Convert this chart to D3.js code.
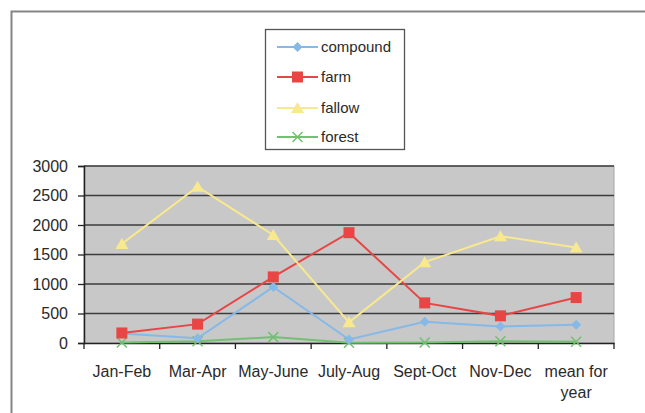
<!DOCTYPE html>
<html><head><meta charset="utf-8">
<script src="https://cdn.jsdelivr.net/npm/d3@7"></script>
<style>body{margin:0;background:#fff;font-family:"Liberation Sans",Arial,sans-serif;}</style>
</head><body>
<svg id="c" width="645" height="413"></svg>
<script>
const categories = ["Jan-Feb","Mar-Apr","May-June","July-Aug","Sept-Oct","Nov-Dec","mean for year"];
const compound = [160, 80, 950, 60, 360, 280, 310];
const farm = [170, 320, 1120, 1870, 680, 460, 770];
const fallow = [1680, 2650, 1830, 350, 1370, 1810, 1620];
const forest = [10, 30, 100, 5, 10, 30, 20];
const yTicks = [0, 500, 1000, 1500, 2000, 2500, 3000];
const seriesNames = ["compound","farm","fallow","forest"];
const seriesColors = ["#86b8e8","#e84545","#f8e88e","#72c070"];
const seriesSymbols = ["diamond","square","triangle","cross"];
const seriesData = [compound, farm, fallow, forest];

const svg = d3.select("#c");
svg.append("path").attr("d","M11.5,413 L11.5,11.5 L645,11.5").attr("fill","none").attr("stroke","#858585").attr("stroke-width",2);

const L=84, R=614, T=166, B=343;
const x = d3.scaleBand().domain(categories).range([L,R]);
const y = d3.scaleLinear().domain([0,3000]).range([B,T]);

svg.append("rect").attr("x",L).attr("y",T).attr("width",R-L).attr("height",B-T).attr("fill","#c8c8c8").attr("stroke","#a8a8a8").attr("stroke-width",1);
svg.append("g").selectAll("line").data(yTicks.slice(1)).join("line")
  .attr("x1",L).attr("x2",R).attr("y1",d=>y(d)).attr("y2",d=>y(d))
  .attr("stroke","#3c3c3c").attr("stroke-width",1.5);

const ya = svg.append("g").attr("transform",`translate(${L},0)`)
  .call(d3.axisLeft(y).tickValues(yTicks).tickSize(6).tickPadding(10).tickFormat(d3.format("d")));
ya.select(".domain").attr("stroke","#222").attr("stroke-width",1.5);
ya.selectAll(".tick line").attr("stroke","#222").attr("stroke-width",1.3);
ya.selectAll("text").attr("font-size",16).attr("fill","#2a2a2a").attr("font-family","Liberation Sans, Arial, sans-serif");

const xa = svg.append("g").attr("transform",`translate(0,${B})`)
  .call(d3.axisBottom(x).tickSize(0).tickFormat(""));
xa.select(".domain").attr("stroke","#222").attr("stroke-width",1.5);
xa.selectAll(".tick").remove();
svg.append("g").selectAll("line").data(categories.map((c,i)=>i).concat([categories.length])).join("line")
  .attr("x1",i=>L+i*x.step()).attr("x2",i=>L+i*x.step()).attr("y1",B).attr("y2",B+6)
  .attr("stroke","#222").attr("stroke-width",1.3);
const lab = svg.append("g").selectAll("text").data(categories).join("text")
  .attr("x",d=>x(d)+x.bandwidth()/2).attr("y",377).attr("text-anchor","middle")
  .attr("font-size",16).attr("fill","#2a2a2a");
lab.each(function(d){
  const t=d3.select(this);
  if(d==="mean for year"){
    t.append("tspan").attr("x",x(d)+x.bandwidth()/2).text("mean for");
    t.append("tspan").attr("x",x(d)+x.bandwidth()/2).attr("dy",21).text("year");
  } else t.text(d);
});

const line = d3.line().x((v,i)=>x(categories[i])+x.bandwidth()/2).y(v=>y(v));
function sym(g, type, color, cx, cy){
  if(type==="diamond") g.append("path").attr("d",`M${cx},${cy-5}L${cx+5},${cy}L${cx},${cy+5}L${cx-5},${cy}Z`).attr("fill",color);
  else if(type==="square") g.append("rect").attr("x",cx-5.5).attr("y",cy-5.5).attr("width",11).attr("height",11).attr("fill",color);
  else if(type==="triangle") g.append("path").attr("d",`M${cx},${cy-6}L${cx+6.5},${cy+5}L${cx-6.5},${cy+5}Z`).attr("fill",color);
  else g.append("path").attr("d",`M${cx-5},${cy-5}L${cx+5},${cy+5}M${cx+5},${cy-5}L${cx-5},${cy+5}`).attr("stroke",color).attr("stroke-width",1.5);
}
[3,0,1,2].forEach(k=>{
  const g = svg.append("g");
  g.append("path").datum(seriesData[k]).attr("d",line).attr("fill","none").attr("stroke",seriesColors[k]).attr("stroke-width",2);
  seriesData[k].forEach((v,i)=>sym(g, seriesSymbols[k], seriesColors[k], x(categories[i])+x.bandwidth()/2, y(v)));
});

const lg = svg.append("g");
lg.append("rect").attr("x",265.5).attr("y",29.5).attr("width",139).attr("height",120).attr("fill","#fff").attr("stroke","#555").attr("stroke-width",1.3);
const ly = [47, 77, 108, 137];
seriesNames.forEach((n,k)=>{
  lg.append("line").attr("x1",277).attr("x2",318).attr("y1",ly[k]).attr("y2",ly[k]).attr("stroke",seriesColors[k]).attr("stroke-width",2);
  sym(lg, seriesSymbols[k], seriesColors[k], 297.5, ly[k]);
  lg.append("text").attr("x",321).attr("y",ly[k]+5).attr("font-size",15).attr("fill","#2a2a2a").text(n);
});
</script>
</body></html>
